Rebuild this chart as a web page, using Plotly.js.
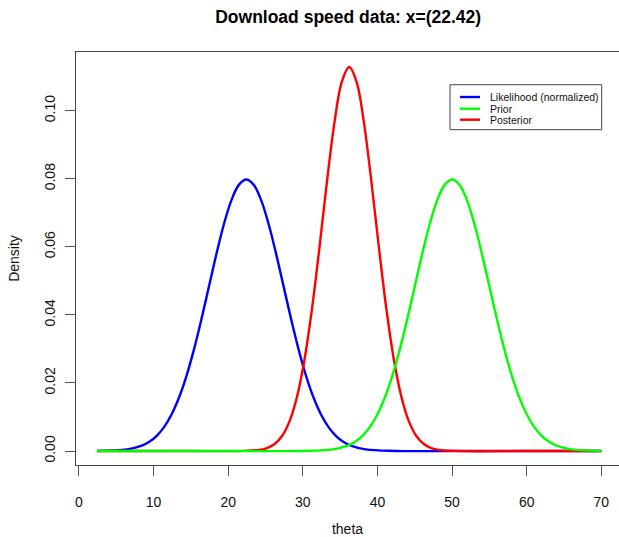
<!DOCTYPE html>
<html>
<head>
<meta charset="utf-8">
<script src="https://cdn.plot.ly/plotly-3.0.1.min.js"></script>
<style>html,body{margin:0;padding:0;background:#fff;}#chart{width:619px;height:537px;}</style>
</head>
<body>
<div id="chart"></div>
<script>
// Likelihood (normalized)
var likX = [2.42, 6.42, 8.42, 9.42, 10.42, 11.42, 12.42, 13.42, 14.42, 15.42, 16.42, 17.42, 18.42, 19.42, 20.42, 21.42, 22.42, 23.42, 24.42, 25.42, 26.42, 27.42, 28.42, 29.42, 30.42, 31.42, 32.42, 33.42, 34.42, 35.42, 36.42, 38.42, 42.42, 50, 60, 70];
var likY = [0.00003, 0.00048, 0.00158, 0.00272, 0.00448, 0.00709, 0.01080, 0.01579, 0.02218, 0.02995, 0.03884, 0.04839, 0.05794, 0.06665, 0.07365, 0.07821, 0.07979, 0.07821, 0.07365, 0.06665, 0.05794, 0.04839, 0.03884, 0.02995, 0.02218, 0.01579, 0.01080, 0.00709, 0.00448, 0.00272, 0.00158, 0.00048, 0.00003, 0, 0, 0];

// Prior
var priorX = [2.42, 20, 30, 34, 36, 37, 38, 39, 40, 41, 42, 43, 44, 45, 46, 47, 48, 49, 50, 51, 52, 53, 54, 55, 56, 57, 58, 59, 60, 61, 62, 63, 64, 66, 70];
var priorY = [0, 0, 0.00003, 0.00048, 0.00158, 0.00272, 0.00448, 0.00709, 0.01080, 0.01579, 0.02218, 0.02995, 0.03884, 0.04839, 0.05794, 0.06665, 0.07365, 0.07821, 0.07979, 0.07821, 0.07365, 0.06665, 0.05794, 0.04839, 0.03884, 0.02995, 0.02218, 0.01579, 0.01080, 0.00709, 0.00448, 0.00272, 0.00158, 0.00048, 0.00003];

// Posterior
var postX = [2.42, 15, 22.21, 24.21, 25.21, 26.21, 27.21, 28.21, 29.21, 30.21, 31.21, 32.21, 33.21, 34.21, 35.21, 36.21, 37.21, 38.21, 39.21, 40.21, 41.21, 42.21, 43.21, 44.21, 45.21, 46.21, 47.21, 48.21, 50.21, 60, 70];
var postY = [0, 0, 0.00004, 0.00036, 0.00089, 0.00207, 0.00442, 0.00872, 0.01590, 0.02673, 0.04151, 0.05950, 0.07873, 0.09615, 0.10842, 0.11284, 0.10842, 0.09615, 0.07873, 0.05950, 0.04151, 0.02673, 0.01590, 0.00872, 0.00442, 0.00207, 0.00089, 0.00036, 0.00004, 0, 0];

var seriesNames = ["Likelihood (normalized)", "Prior", "Posterior"];
var seriesColors = ["#0000ff", "#00ff00", "#ff0000"];
var xTicks = [0, 10, 20, 30, 40, 50, 60, 70];
var yTicks = [0, 0.02, 0.04, 0.06, 0.08, 0.10];
var yTickText = ["0.00", "0.02", "0.04", "0.06", "0.08", "0.10"];

var FONT = "Liberation Sans, Arial, Helvetica, sans-serif";
var LW = 2.4;

var traces = [
  {x: likX, y: likY, name: seriesNames[0], type: "scatter", mode: "lines",
   line: {color: seriesColors[0], width: LW, shape: "spline", smoothing: 1}},
  {x: postX, y: postY, name: seriesNames[2], type: "scatter", mode: "lines",
   line: {color: seriesColors[2], width: LW, shape: "spline", smoothing: 1}},
  {x: priorX, y: priorY, name: seriesNames[1], type: "scatter", mode: "lines",
   line: {color: seriesColors[1], width: LW, shape: "spline", smoothing: 1}}
];

// Compact R-style legend drawn in paper coordinates
var legBox = {x0: 0.6888, x1: 0.9681, y0: 0.8119, y1: 0.9208};
var legLineX = [0.7072, 0.7440];
var legTextX = 0.7587;
var legRowY = [0.8910, 0.8627, 0.8361];

var shapes = [{type: "rect", xref: "paper", yref: "paper", x0: legBox.x0, x1: legBox.x1, y0: legBox.y0, y1: legBox.y1,
               line: {color: "#444", width: 1}, fillcolor: "#ffffff", layer: "above"}];
var annotations = [];
for (var i = 0; i < seriesNames.length; i++) {
  shapes.push({type: "line", xref: "paper", yref: "paper", x0: legLineX[0], x1: legLineX[1], y0: legRowY[i], y1: legRowY[i],
               line: {color: seriesColors[i], width: LW}, layer: "above"});
  annotations.push({xref: "paper", yref: "paper", x: legTextX, y: legRowY[i], xanchor: "left", yanchor: "middle",
                    text: seriesNames[i], showarrow: false, font: {size: 10.5, family: FONT, color: "#111"}});
}

var layout = {
  width: 619, height: 537,
  margin: {l: 76, r: 0, t: 52, b: 72},
  paper_bgcolor: "#ffffff", plot_bgcolor: "#ffffff",
  font: {family: FONT, color: "#000"},
  title: {text: "<b>Download speed data: x=(22.42)</b>", font: {size: 17.5, family: FONT, color: "#000"},
          x: 0.5625, xanchor: "center", y: 0.968, yanchor: "middle"},
  showlegend: false,
  shapes: shapes,
  annotations: annotations,
  xaxis: {
    range: [-0.4, 72.37], tickvals: xTicks, ticktext: xTicks.map(String),
    showgrid: false, zeroline: false, showline: true, mirror: true, linecolor: "#444", linewidth: 1,
    ticks: "outside", ticklen: 10, tickcolor: "#555", tickwidth: 1,
    tickfont: {size: 14, family: FONT, color: "#111"}, ticklabelstandoff: 14,
    title: {text: "theta", font: {size: 14, family: FONT, color: "#111"}, standoff: 21}
  },
  yaxis: {
    range: [-0.0041, 0.11725], tickvals: yTicks, ticktext: yTickText,
    showgrid: false, zeroline: false, showline: true, mirror: false, linecolor: "#444", linewidth: 1,
    ticks: "outside", ticklen: 10, tickcolor: "#555", tickwidth: 1, tickangle: -90,
    tickfont: {size: 14, family: FONT, color: "#111"}, ticklabelstandoff: 4,
    title: {text: "Density", font: {size: 14, family: FONT, color: "#111"}, standoff: 19}
  }
};

Plotly.newPlot("chart", traces, layout, {displayModeBar: false, staticPlot: true});
</script>
</body>
</html>
